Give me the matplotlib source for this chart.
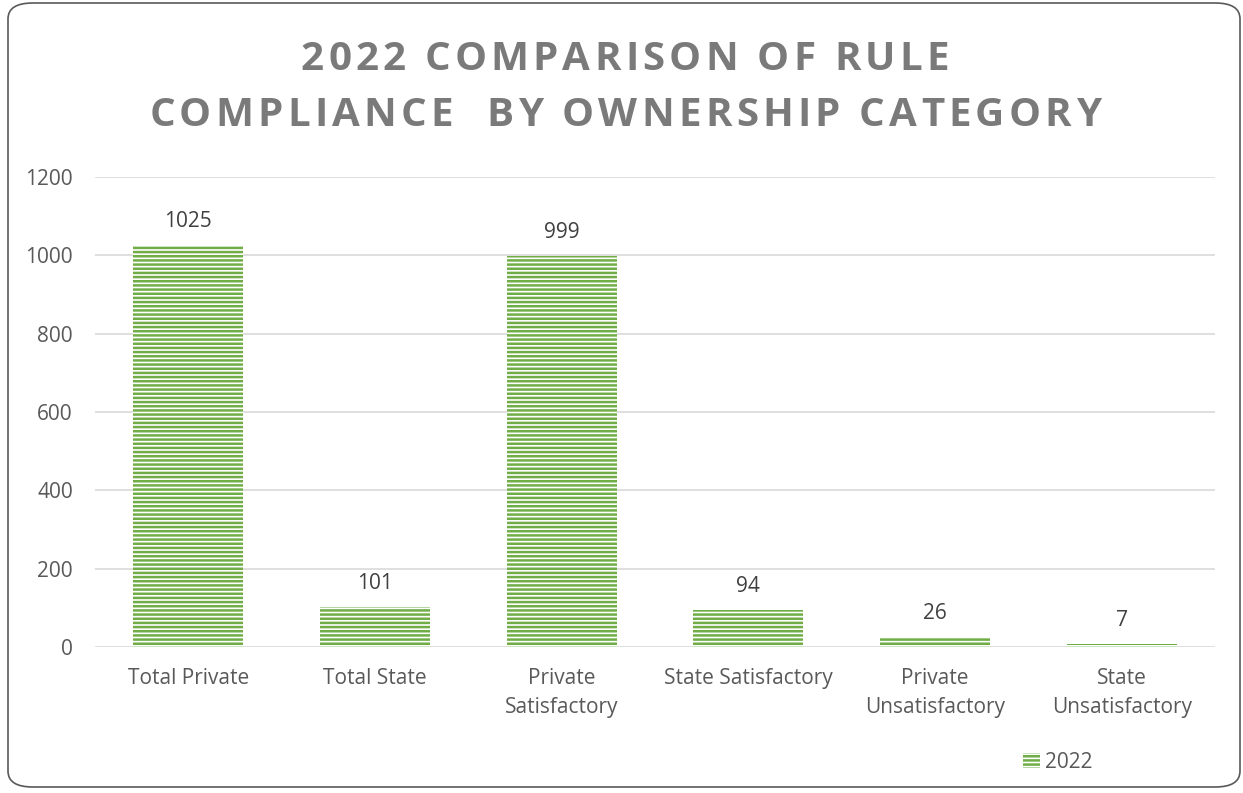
import matplotlib.pyplot as plt
import numpy as np
from matplotlib.patches import FancyBboxPatch
from matplotlib.font_manager import FontProperties

categories = ['Total Private', 'Total State', 'Private\nSatisfactory', 'State Satisfactory',
              'Private\nUnsatisfactory', 'State\nUnsatisfactory']
values_2022 = [1025, 101, 999, 94, 26, 7]
yticks = [0, 200, 400, 600, 800, 1000, 1200]
title_lines = ['2022 COMPARISON OF RULE', 'COMPLIANCE  BY OWNERSHIP CATEGORY']

green = '#70AD47'
txt = '#595959'
plt.rcParams['font.family'] = ['Open Sans', 'DejaVu Sans']
plt.rcParams['hatch.linewidth'] = 1.8
plt.rcParams['hatch.color'] = green

W, H = 1243, 793
fig = plt.figure(figsize=(W / 100, H / 100), dpi=100)
ax = fig.add_axes([95 / W, 1 - 647 / H, 1120 / W, 470 / H])

x = np.arange(len(categories))
bars = ax.bar(x, values_2022, width=0.59, facecolor='white', edgecolor=green,
              linewidth=0, hatch='----', label='2022')
for b, v in zip(bars, values_2022):
    ax.annotate(str(v), (b.get_x() + b.get_width() / 2, v), xytext=(0, 17),
                textcoords='offset points', ha='center', va='center',
                fontsize=15, color='#404040')

ax.set_xlim(-0.5, len(categories) - 0.5)
ax.set_ylim(0, 1200)
ax.set_yticks(yticks)
ax.set_xticks(x)
ax.set_xticklabels(categories, fontsize=15, color=txt, linespacing=1.5)
ax.tick_params(axis='y', labelsize=15, labelcolor=txt, length=0, pad=16)
ax.tick_params(axis='x', length=0, pad=15)
ax.grid(axis='y', color='#D9D9D9', linewidth=1.2)
ax.set_axisbelow(True)
for s in ax.spines.values():
    s.set_visible(False)

# title with wide letter spacing, laid out one glyph at a time
renderer = fig.canvas.get_renderer()
tprop = FontProperties(family=['Open Sans', 'DejaVu Sans'], weight='bold', size=29)
track = 4.2
for line, yc in zip(title_lines, [60, 115]):
    adv = [renderer.get_text_width_height_descent(c, tprop, ismath=False)[0] for c in line]
    total = sum(adv) + track * (len(line) - 1)
    xp = 625 - total / 2
    for c, a in zip(line, adv):
        if c != ' ':
            fig.text(xp / W, 1 - yc / H, c, ha='left', va='center', fontproperties=tprop,
                     color='#7A7A7A')
        xp += a + track

leg = fig.legend(handles=[bars], labels=['2022'], loc='center',
                 bbox_to_anchor=(1058 / W, 1 - 762 / H), frameon=False, fontsize=15,
                 handlelength=0.8, handleheight=0.7, handletextpad=0.25)
for t in leg.get_texts():
    t.set_color(txt)

border = FancyBboxPatch((8 / W, 6 / H), 1232 / W, 784 / H,
                        boxstyle='round,pad=0,rounding_size=0.02', transform=fig.transFigure,
                        facecolor='none', edgecolor='#595959', linewidth=1.2)
fig.patches.append(border)

fig.savefig('out.png', dpi=100)
